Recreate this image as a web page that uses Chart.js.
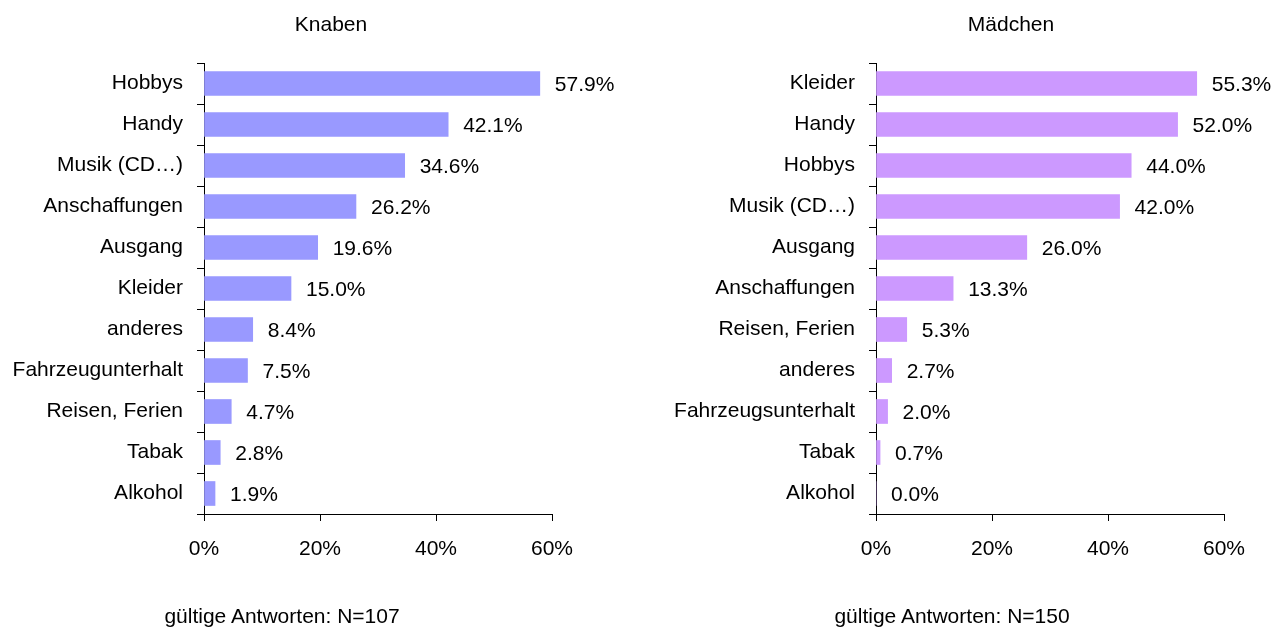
<!DOCTYPE html>
<html>
<head>
<meta charset="utf-8">
<script src="https://cdn.jsdelivr.net/npm/chart.js@4/dist/chart.umd.min.js"></script>
<style>
  body { margin:0; background:#fff; font-family:"Liberation Sans", Arial, sans-serif; }
  #wrap { position:relative; width:1288px; height:628px; overflow:hidden; }
  canvas { position:absolute; top:0; }
  .txt { position:absolute; width:400px; text-align:center; font-size:21px; line-height:21px; color:#000; }
</style>
</head>
<body>
<div id="wrap">
  <canvas id="knaben" width="644" height="628" style="left:0"></canvas>
  <canvas id="maedchen" width="644" height="628" style="left:644px"></canvas>
  <div class="txt" style="left:131px;top:13px">Knaben</div>
  <div class="txt" style="left:811px;top:13px">Mädchen</div>
  <div class="txt" style="left:82px;top:605px">gültige Antworten: N=107</div>
  <div class="txt" style="left:752px;top:605px">gültige Antworten: N=150</div>
</div>
<script>
var knabenLabels = ['Hobbys', 'Handy', 'Musik (CD…)', 'Anschaffungen', 'Ausgang', 'Kleider', 'anderes', 'Fahrzeugunterhalt', 'Reisen, Ferien', 'Tabak', 'Alkohol'];
var knabenValues = [57.9, 42.1, 34.6, 26.2, 19.6, 15.0, 8.4, 7.5, 4.7, 2.8, 1.9];

var maedchenLabels = ['Kleider', 'Handy', 'Hobbys', 'Musik (CD…)', 'Ausgang', 'Anschaffungen', 'Reisen, Ferien', 'anderes', 'Fahrzeugsunterhalt', 'Tabak', 'Alkohol'];
var maedchenValues = [55.3, 52.0, 44.0, 42.0, 26.0, 13.3, 5.3, 2.7, 2.0, 0.7, 0.0];

var xTicks = [0, 20, 40, 60];

Chart.defaults.font.family = '"Liberation Sans", Arial, sans-serif';
Chart.defaults.font.size = 21;
Chart.defaults.color = '#000';

// value labels to the right of each bar
var valueLabels = {
  id: 'valueLabels',
  afterDatasetsDraw: function (chart) {
    var ctx = chart.ctx;
    var meta = chart.getDatasetMeta(0);
    var data = chart.data.datasets[0].data;
    ctx.save();
    ctx.font = '21px "Liberation Sans", Arial, sans-serif';
    ctx.fillStyle = '#000';
    ctx.textAlign = 'left';
    ctx.textBaseline = 'middle';
    meta.data.forEach(function (bar, i) {
      ctx.fillText(data[i].toFixed(1) + '%', bar.x + 15, bar.y + 2);
    });
    ctx.restore();
  }
};

function makeChart(id, labels, values, color, yWidth, padRight) {
  return new Chart(document.getElementById(id), {
    type: 'bar',
    data: {
      labels: labels,
      datasets: [{
        data: values,
        backgroundColor: color,
        borderWidth: 0,
        barThickness: 24
      }]
    },
    options: {
      indexAxis: 'y',
      responsive: false,
      animation: false,
      devicePixelRatio: 1,
      layout: { padding: { top: 63, right: padRight, bottom: 0, left: 0 } },
      plugins: { legend: { display: false }, tooltip: { enabled: false } },
      scales: {
        x: {
          min: 0,
          max: 60,
          afterBuildTicks: function (scale) {
            scale.ticks = xTicks.map(function (v) { return { value: v }; });
          },
          afterFit: function (scale) { scale.height = 114; },
          ticks: {
            padding: 16,
            maxRotation: 0,
            callback: function (v) { return v + '%'; }
          },
          grid: { drawOnChartArea: false, drawTicks: true, tickLength: 7, color: '#000', lineWidth: 1 },
          border: { color: '#000', width: 1 }
        },
        y: {
          afterFit: function (scale) { scale.width = yWidth; },
          ticks: { padding: 14, autoSkip: false },
          grid: { drawOnChartArea: false, drawTicks: true, tickLength: 7, color: '#000', lineWidth: 1, offset: true },
          border: { color: '#000', width: 1 }
        }
      }
    },
    plugins: [valueLabels]
  });
}

makeChart('knaben', knabenLabels, knabenValues, '#9999FF', 204, 92);
makeChart('maedchen', maedchenLabels, maedchenValues, '#CC99FF', 232, 64);
</script>
</body>
</html>
